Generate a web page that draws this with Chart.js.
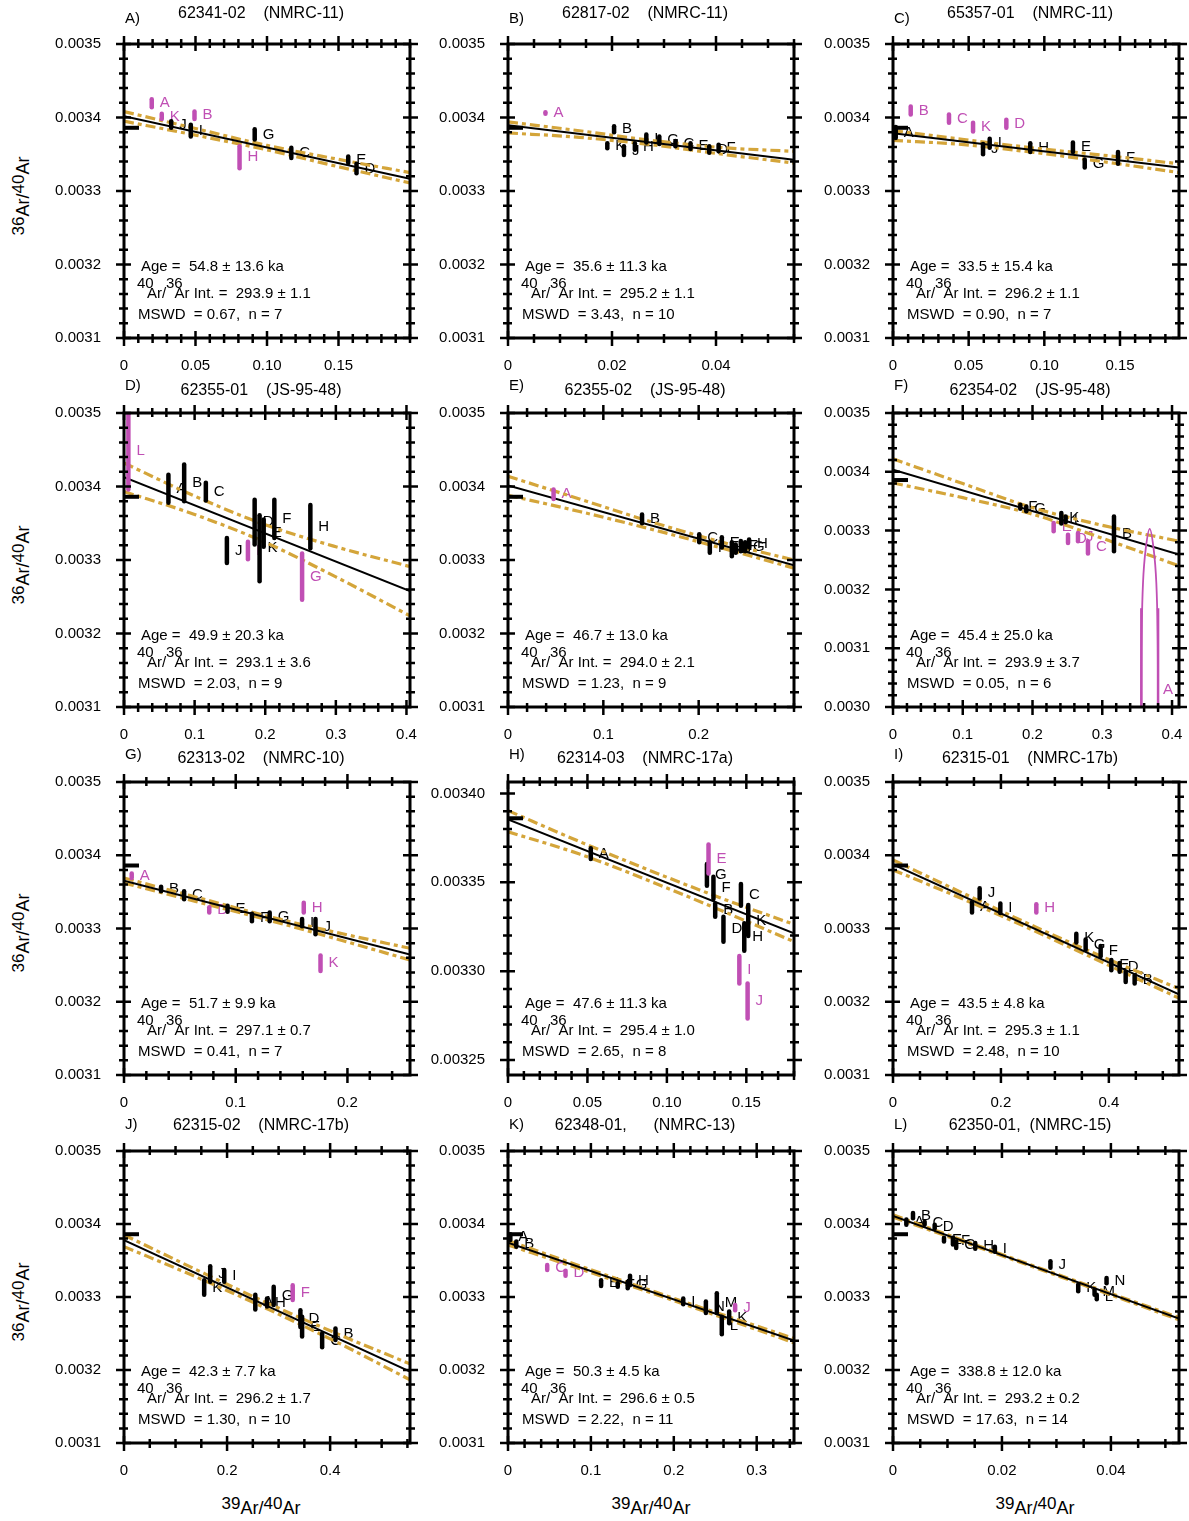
<!DOCTYPE html>
<html>
<head>
<meta charset="utf-8">
<script src="https://cdn.jsdelivr.net/npm/chart.js@4.4.0/dist/chart.umd.min.js"></script>
<style>
body { margin: 0; background: #fff; width: 1189px; height: 1521px; position: relative; overflow: hidden;
       font-family: "Liberation Sans", Arial, sans-serif; color: #000; }
canvas { position: absolute; }
.ytitle { position: absolute; white-space: nowrap; font-size: 18px; transform: translate(-50%, -50%) rotate(-90deg); }
.xtitle { position: absolute; white-space: nowrap; font-size: 18px; transform: translate(-50%, -50%); }
.num { position: relative; top: -5px; font-size: 17px; }
</style>
</head>
<body>
<script>
const ATM_RATIO = 0.003386;

const Y_TICKS = [0.0031, 0.0032, 0.0033, 0.0034, 0.0035];
const Y_TICK_TEXT = ['0.0031', '0.0032', '0.0033', '0.0034', '0.0035'];
const Y_TICKS_F = [0.0030, 0.0031, 0.0032, 0.0033, 0.0034, 0.0035];
const Y_TICK_TEXT_F = ['0.0030', '0.0031', '0.0032', '0.0033', '0.0034', '0.0035'];
const Y_TICKS_H = [0.00325, 0.00330, 0.00335, 0.00340];
const Y_TICK_TEXT_H = ['0.00325', '0.00330', '0.00335', '0.00340'];

const PANEL_LETTERS = ['A', 'B', 'C', 'D', 'E', 'F', 'G', 'H', 'I', 'J', 'K', 'L'];
const SAMPLE_TITLES = [
    '62341-02    (NMRC-11)', '62817-02    (NMRC-11)', '65357-01    (NMRC-11)',
    '62355-01    (JS-95-48)', '62355-02    (JS-95-48)', '62354-02    (JS-95-48)',
    '62313-02    (NMRC-10)', '62314-03    (NMRC-17a)', '62315-01    (NMRC-17b)',
    '62315-02    (NMRC-17b)', '62348-01,      (NMRC-13)', '62350-01,  (NMRC-15)'
];
const AGE_KA = ['54.8 ± 13.6', '35.6 ± 11.3', '33.5 ± 15.4', '49.9 ± 20.3', '46.7 ± 13.0', '45.4 ± 25.0',
    '51.7 ± 9.9', '47.6 ± 11.3', '43.5 ± 4.8', '42.3 ± 7.7', '50.3 ± 4.5', '338.8 ± 12.0'];
const INTERCEPT = ['293.9 ± 1.1', '295.2 ± 1.1', '296.2 ± 1.1', '293.1 ± 3.6', '294.0 ± 2.1', '293.9 ± 3.7',
    '297.1 ± 0.7', '295.4 ± 1.0', '295.3 ± 1.1', '296.2 ± 1.7', '296.6 ± 0.5', '293.2 ± 0.2'];
const MSWD = ['0.67', '3.43', '0.90', '2.03', '1.23', '0.05', '0.41', '2.65', '2.48', '1.30', '2.22', '17.63'];
const N_STEPS = ['7', '10', '7', '9', '9', '6', '7', '8', '10', '10', '11', '14'];

// A) 62341-02
const A_steps = ['A', 'K', 'B', 'J', 'I', 'G', 'C', 'H', 'E', 'D'];
const A_x = [0.0194, 0.0264, 0.0493, 0.0330, 0.0467, 0.0914, 0.1170, 0.0808, 0.1568, 0.1626];
const A_lo = [0.003414, 0.003398, 0.003398, 0.003386, 0.003374, 0.003370, 0.003345, 0.003331, 0.003338, 0.003324];
const A_hi = [0.003425, 0.003405, 0.003408, 0.003395, 0.003390, 0.003384, 0.003359, 0.003361, 0.003347, 0.003337];
const A_out = ['A', 'K', 'B', 'H'];
const A_fit = [0.0034016, 0.0033168];
const A_envX = [0, 0.05, 0.1, 0.15, 0.2];
const A_envUp = [0.003408, 0.003385, 0.003362, 0.003343, 0.003325];
const A_envLo = [0.003395, 0.003376, 0.003356, 0.003333, 0.003311];
const A_xTicks = [0, 0.05, 0.10, 0.15];
const A_xText = ['0', '0.05', '0.10', '0.15'];

// B) 62817-02
const B_steps = ['A', 'B', 'K', 'J', 'H', 'I', 'G', 'C', 'E', 'D', 'F'];
const B_x = [0.0072, 0.0204, 0.0191, 0.0223, 0.0244, 0.0266, 0.0291, 0.0322, 0.0351, 0.0387, 0.0405];
const B_lo = [0.003405, 0.003380, 0.003358, 0.003349, 0.003356, 0.003366, 0.003364, 0.003361, 0.003357, 0.003352, 0.003354];
const B_hi = [0.003407, 0.003388, 0.003365, 0.003361, 0.003365, 0.003377, 0.003374, 0.003368, 0.003365, 0.003361, 0.003363];
const B_out = ['A'];
const B_fit = [0.0033893, 0.0033426];
const B_envX = [0, 0.01375, 0.0275, 0.04125, 0.055];
const B_envUp = [0.003394, 0.003382, 0.003369, 0.003359, 0.003354];
const B_envLo = [0.003379, 0.003373, 0.003363, 0.003350, 0.003338];
const B_xTicks = [0, 0.02, 0.04];
const B_xText = ['0', '0.02', '0.04'];

// C) 65357-01
const C_steps = ['A', 'B', 'C', 'K', 'D', 'J', 'I', 'H', 'E', 'G', 'F'];
const C_x = [0.0018, 0.0117, 0.0370, 0.0529, 0.0749, 0.0595, 0.0639, 0.0907, 0.1189, 0.1267, 0.1487];
const C_lo = [0.003372, 0.003404, 0.003393, 0.003381, 0.003386, 0.003350, 0.003359, 0.003353, 0.003353, 0.003332, 0.003337];
const C_hi = [0.003387, 0.003415, 0.003404, 0.003393, 0.003397, 0.003364, 0.003371, 0.003365, 0.003366, 0.003343, 0.003353];
const C_out = ['B', 'C', 'K', 'D'];
const C_fit = [0.0033785, 0.0033321];
const C_envX = [0, 0.047, 0.095, 0.142, 0.189];
const C_envUp = [0.003382, 0.003370, 0.003358, 0.003348, 0.003337];
const C_envLo = [0.003369, 0.003363, 0.003352, 0.003339, 0.003325];
const C_xTicks = [0, 0.05, 0.10, 0.15];
const C_xText = ['0', '0.05', '0.10', '0.15'];

// D) 62355-01
const D_steps = ['L', 'A', 'B', 'C', 'J', 'I', 'D', 'K', 'E', 'F', 'G', 'H'];
const D_x = [0.0062, 0.0629, 0.0852, 0.1159, 0.1457, 0.1755, 0.1850, 0.1920, 0.1978, 0.2129, 0.2522, 0.2639];
const D_lo = [0.003396, 0.003378, 0.003380, 0.003381, 0.003296, 0.003301, 0.003321, 0.003271, 0.003318, 0.003330, 0.003246, 0.003316];
const D_hi = [0.003500, 0.003416, 0.003430, 0.003405, 0.003330, 0.003325, 0.003382, 0.003361, 0.003355, 0.003382, 0.003309, 0.003375];
const D_out = ['L', 'I', 'G'];
const D_fit = [0.0034127, 0.0032577];
const D_envX = [0, 0.1, 0.2, 0.3, 0.405];
const D_envUp = [0.003432, 0.003387, 0.003348, 0.003318, 0.003291];
const D_envLo = [0.003393, 0.003362, 0.003324, 0.003277, 0.003224];
const D_xTicks = [0, 0.1, 0.2, 0.3, 0.4];
const D_xText = ['0', '0.1', '0.2', '0.3', '0.4'];

// E) 62355-02
const E_steps = ['A', 'B', 'C', 'I', 'E', 'D', 'J', 'F', 'G', 'H'];
const E_x = [0.0478, 0.1406, 0.2006, 0.2117, 0.2243, 0.2348, 0.2389, 0.2442, 0.2487, 0.2529];
const E_lo = [0.003383, 0.003350, 0.003324, 0.003310, 0.003317, 0.003305, 0.003310, 0.003312, 0.003312, 0.003317];
const E_hi = [0.003396, 0.003362, 0.003335, 0.003324, 0.003331, 0.003324, 0.003321, 0.003326, 0.003324, 0.003328];
const E_out = ['A'];
const E_fit = [0.0034015, 0.0032929];
const E_envX = [0, 0.075, 0.15, 0.225, 0.3];
const E_envUp = [0.003414, 0.003383, 0.003352, 0.003324, 0.003300];
const E_envLo = [0.003388, 0.003366, 0.003342, 0.003316, 0.003289];
const E_xTicks = [0, 0.1, 0.2];
const E_xText = ['0', '0.1', '0.2'];

// F) 62354-02
const F_steps = ['F', 'G', 'K', 'I', 'B', 'E', 'D', 'J', 'C'];
const F_x = [0.1825, 0.1911, 0.2413, 0.2475, 0.3168, 0.2303, 0.2509, 0.2652, 0.2795];
const F_lo = [0.003337, 0.003333, 0.003312, 0.003314, 0.003265, 0.003299, 0.003279, 0.003282, 0.003261];
const F_hi = [0.003344, 0.003341, 0.003330, 0.003324, 0.003324, 0.003313, 0.003293, 0.003296, 0.003282];
const F_out = ['E', 'D', 'J', 'C'];
const F_fit = [0.0034036, 0.0032591];
const F_envX = [0, 0.1, 0.2, 0.3, 0.41];
const F_envUp = [0.003422, 0.003380, 0.003339, 0.003309, 0.003282];
const F_envLo = [0.003381, 0.003356, 0.003328, 0.003287, 0.003240];
const F_xTicks = [0, 0.1, 0.2, 0.3, 0.4];
const F_xText = ['0', '0.1', '0.2', '0.3', '0.4'];
// step A of F: large error ellipse running off the bottom of the plot
const F_archX = [0.3560, 0.3565, 0.3584, 0.3622, 0.3680, 0.3737, 0.3775, 0.3794, 0.3799];
const F_archY = [0.003000, 0.003120, 0.003211, 0.003268, 0.003303, 0.003268, 0.003211, 0.003120, 0.003000];
const F_legX = [0.3560, 0.3800];
const F_legTop = 0.003168;
const F_archLabelY = 0.00303;

// G) 62313-02
const G_steps = ['A', 'B', 'C', 'D', 'E', 'F', 'G', 'H', 'I', 'J', 'K'];
const G_x = [0.0069, 0.0332, 0.0538, 0.0763, 0.0927, 0.1145, 0.1304, 0.1609, 0.1594, 0.1714, 0.1759];
const G_lo = [0.003369, 0.003351, 0.003340, 0.003322, 0.003323, 0.003310, 0.003310, 0.003322, 0.003303, 0.003292, 0.003242];
const G_hi = [0.003375, 0.003357, 0.003351, 0.003329, 0.003331, 0.003320, 0.003322, 0.003335, 0.003313, 0.003313, 0.003263];
const G_out = ['A', 'D', 'H', 'K'];
const G_fit = [0.0033652, 0.0032646];
const G_envX = [0, 0.064, 0.128, 0.192, 0.256];
const G_envUp = [0.003369, 0.003343, 0.003317, 0.003294, 0.003273];
const G_envLo = [0.003362, 0.003337, 0.003312, 0.003285, 0.003257];
const G_xTicks = [0, 0.1, 0.2];
const G_xText = ['0', '0.1', '0.2'];

// H) 62314-03
const H_steps = ['A', 'E', 'G', 'F', 'B', 'D', 'C', 'H', 'K', 'I', 'J'];
const H_x = [0.0521, 0.1262, 0.1252, 0.1293, 0.1304, 0.1356, 0.1466, 0.1487, 0.1512, 0.1456, 0.1508];
const H_lo = [0.0033631, 0.0033550, 0.0033481, 0.0033406, 0.0033306, 0.0033166, 0.0033368, 0.0033115, 0.0033198, 0.0032931, 0.0032734];
const H_hi = [0.0033691, 0.0033713, 0.0033603, 0.0033531, 0.0033381, 0.0033306, 0.0033490, 0.0033269, 0.0033372, 0.0033085, 0.0032931];
const H_out = ['E', 'I', 'J'];
const H_fit = [0.0033854, 0.0033213];
const H_envX = [0, 0.045, 0.09, 0.135, 0.18];
const H_envUp = [0.0033903, 0.0033729, 0.0033564, 0.0033408, 0.0033263];
const H_envLo = [0.0033784, 0.0033659, 0.0033504, 0.0033338, 0.0033166];
const H_xTicks = [0, 0.05, 0.10, 0.15];
const H_xText = ['0', '0.05', '0.10', '0.15'];

// I) 62315-01
const I_steps = ['J', 'A', 'I', 'H', 'K', 'G', 'F', 'E', 'D', 'C', 'B'];
const I_x = [0.1606, 0.1464, 0.1989, 0.2656, 0.3397, 0.3570, 0.3848, 0.4046, 0.4200, 0.4312, 0.4478];
const I_lo = [0.003341, 0.003322, 0.003321, 0.003322, 0.003281, 0.003271, 0.003262, 0.003243, 0.003241, 0.003227, 0.003225];
const I_hi = [0.003355, 0.003336, 0.003334, 0.003333, 0.003293, 0.003285, 0.003276, 0.003257, 0.003253, 0.003241, 0.003236];
const I_out = ['H'];
const I_fit = [0.0033876, 0.0032101];
const I_envX = [0, 0.13, 0.265, 0.4, 0.53];
const I_envUp = [0.0033935, 0.0033481, 0.0033018, 0.0032576, 0.0032179];
const I_envLo = [0.0033800, 0.0033401, 0.0032958, 0.0032496, 0.0032050];
const I_xTicks = [0, 0.2, 0.4];
const I_xText = ['0', '0.2', '0.4'];

// J) 62315-02
const J_steps = ['K', 'J', 'I', 'A', 'H', 'G', 'F', 'D', 'E', 'C', 'B'];
const J_x = [0.1556, 0.1673, 0.1945, 0.2548, 0.2775, 0.2905, 0.3274, 0.3423, 0.3456, 0.3845, 0.4104];
const J_lo = [0.003303, 0.003321, 0.003321, 0.003283, 0.003287, 0.003289, 0.003296, 0.003259, 0.003246, 0.003231, 0.003241];
const J_hi = [0.003323, 0.003342, 0.003337, 0.003303, 0.003298, 0.003314, 0.003316, 0.003282, 0.003273, 0.003250, 0.003257];
const J_out = ['F'];
const J_fit = [0.0033779, 0.0031979];
const J_envX = [0, 0.14, 0.28, 0.42, 0.555];
const J_envUp = [0.0033850, 0.0033375, 0.0032911, 0.0032477, 0.0032084];
const J_envLo = [0.0033690, 0.0033275, 0.0032831, 0.0032357, 0.0031866];
const J_xTicks = [0, 0.2, 0.4];
const J_xText = ['0', '0.2', '0.4'];

// K) 62348-01
const K_steps = ['A', 'B', 'C', 'D', 'E', 'F', 'G', 'H', 'I', 'N', 'M', 'L', 'K', 'J'];
const K_x = [0.0028, 0.0100, 0.0473, 0.0694, 0.1123, 0.1324, 0.1444, 0.1472, 0.2114, 0.2387, 0.2519, 0.2579, 0.2668, 0.2740];
const K_lo = [0.003378, 0.003369, 0.003337, 0.003329, 0.003315, 0.003314, 0.003312, 0.003316, 0.003290, 0.003278, 0.003278, 0.003249, 0.003264, 0.003282];
const K_hi = [0.003386, 0.003376, 0.003344, 0.003336, 0.003323, 0.003319, 0.003321, 0.003329, 0.003298, 0.003294, 0.003305, 0.003273, 0.003280, 0.003289];
const K_out = ['C', 'D', 'J'];
const K_fit = [0.0033743, 0.0032403];
const K_envX = [0, 0.086, 0.1725, 0.259, 0.345];
const K_envUp = [0.0033773, 0.0033429, 0.0033088, 0.0032757, 0.0032433];
const K_envLo = [0.0033713, 0.0033389, 0.0033058, 0.0032717, 0.0032373];
const K_xTicks = [0, 0.1, 0.2, 0.3];
const K_xText = ['0', '0.1', '0.2', '0.3'];

// L) 62350-01
const L_steps = ['A', 'B', 'C', 'D', 'E', 'F', 'G', 'H', 'I', 'J', 'K', 'M', 'L', 'N'];
const L_x = [0.00245, 0.00367, 0.0058, 0.00765, 0.00936, 0.0110, 0.0116, 0.0151, 0.0187, 0.0289, 0.0340, 0.0370, 0.0374, 0.0392];
const L_lo = [0.003399, 0.003408, 0.003399, 0.003394, 0.003376, 0.003372, 0.003367, 0.003366, 0.003362, 0.003340, 0.003308, 0.003303, 0.003297, 0.003319];
const L_hi = [0.003406, 0.003415, 0.003403, 0.003399, 0.003381, 0.003381, 0.003376, 0.003374, 0.003369, 0.003349, 0.003317, 0.003310, 0.003303, 0.003326];
const L_out = [];
const L_fit = [0.0034110, 0.0032703];
const L_envX = [0, 0.013, 0.026, 0.039, 0.0525];
const L_envUp = [0.0034125, 0.0033772, 0.0033421, 0.0033075, 0.0032718];
const L_envLo = [0.0034095, 0.0033752, 0.0033405, 0.0033055, 0.0032688];
const L_xTicks = [0, 0.02, 0.04];
const L_xText = ['0', '0.02', '0.04'];

const BLACK = '#000000';
const MAGENTA = '#c04fb4';
const GOLD = '#d4a53a';
const FONT = '"Liberation Sans", Arial, sans-serif';

const COL_LEFT = [124, 508, 893];
const ROW_TOP = [44, 413, 782, 1151];
const ROW_H = [294, 294, 293, 292];
const PLOT_W = 286;
const LETTER_DY = [-25, -27, -27, -26];
const TITLE_DY = [-30, -22, -23, -25];

const stdY = { yMin: 0.0031, yMax: 0.0035, yMinor: 0.00002, yTicks: Y_TICKS, yText: Y_TICK_TEXT };
const panels = [
    { steps: A_steps, x: A_x, lo: A_lo, hi: A_hi, out: A_out, fit: A_fit, envX: A_envX, envUp: A_envUp, envLo: A_envLo,
      xMax: 0.2, xMinor: 0.01, xTicks: A_xTicks, xText: A_xText, ...stdY },
    { steps: B_steps, x: B_x, lo: B_lo, hi: B_hi, out: B_out, fit: B_fit, envX: B_envX, envUp: B_envUp, envLo: B_envLo,
      xMax: 0.055, xMinor: 0.005, xTicks: B_xTicks, xText: B_xText, ...stdY },
    { steps: C_steps, x: C_x, lo: C_lo, hi: C_hi, out: C_out, fit: C_fit, envX: C_envX, envUp: C_envUp, envLo: C_envLo,
      xMax: 0.189, xMinor: 0.01, xTicks: C_xTicks, xText: C_xText, ...stdY },
    { steps: D_steps, x: D_x, lo: D_lo, hi: D_hi, out: D_out, fit: D_fit, envX: D_envX, envUp: D_envUp, envLo: D_envLo,
      xMax: 0.405, xMinor: 0.02, xTicks: D_xTicks, xText: D_xText, ...stdY },
    { steps: E_steps, x: E_x, lo: E_lo, hi: E_hi, out: E_out, fit: E_fit, envX: E_envX, envUp: E_envUp, envLo: E_envLo,
      xMax: 0.3, xMinor: 0.02, xTicks: E_xTicks, xText: E_xText, ...stdY },
    { steps: F_steps, x: F_x, lo: F_lo, hi: F_hi, out: F_out, fit: F_fit, envX: F_envX, envUp: F_envUp, envLo: F_envLo,
      xMax: 0.41, xMinor: 0.02, xTicks: F_xTicks, xText: F_xText,
      yMin: 0.0030, yMax: 0.0035, yMinor: 0.00002, yTicks: Y_TICKS_F, yText: Y_TICK_TEXT_F, arch: true },
    { steps: G_steps, x: G_x, lo: G_lo, hi: G_hi, out: G_out, fit: G_fit, envX: G_envX, envUp: G_envUp, envLo: G_envLo,
      xMax: 0.256, xMinor: 0.02, xTicks: G_xTicks, xText: G_xText, ...stdY },
    { steps: H_steps, x: H_x, lo: H_lo, hi: H_hi, out: H_out, fit: H_fit, envX: H_envX, envUp: H_envUp, envLo: H_envLo,
      xMax: 0.18, xMinor: 0.01, xTicks: H_xTicks, xText: H_xText,
      yMin: 0.0032416, yMax: 0.0034064, yMinor: 0.00001, yTicks: Y_TICKS_H, yText: Y_TICK_TEXT_H },
    { steps: I_steps, x: I_x, lo: I_lo, hi: I_hi, out: I_out, fit: I_fit, envX: I_envX, envUp: I_envUp, envLo: I_envLo,
      xMax: 0.53, xMinor: 0.05, xTicks: I_xTicks, xText: I_xText, ...stdY },
    { steps: J_steps, x: J_x, lo: J_lo, hi: J_hi, out: J_out, fit: J_fit, envX: J_envX, envUp: J_envUp, envLo: J_envLo,
      xMax: 0.555, xMinor: 0.05, xTicks: J_xTicks, xText: J_xText, ...stdY },
    { steps: K_steps, x: K_x, lo: K_lo, hi: K_hi, out: K_out, fit: K_fit, envX: K_envX, envUp: K_envUp, envLo: K_envLo,
      xMax: 0.345, xMinor: 0.02, xTicks: K_xTicks, xText: K_xText, ...stdY },
    { steps: L_steps, x: L_x, lo: L_lo, hi: L_hi, out: L_out, fit: L_fit, envX: L_envX, envUp: L_envUp, envLo: L_envLo,
      xMax: 0.0525, xMinor: 0.005, xTicks: L_xTicks, xText: L_xText, ...stdY }
];

const panelByCanvas = {};

function tickText(value, ticks, texts, minor) {
    const i = ticks.findIndex(t => Math.abs(t - value) < minor / 100);
    return i >= 0 ? texts[i] : '';
}
// tick positions every minor step inside [min, max]
function gridTicks(min, max, step) {
    const out = [];
    for (let k = Math.ceil(min / step - 1e-6); k <= Math.floor(max / step + 1e-6); k++) {
        out.push({ value: +(k * step).toFixed(10) });
    }
    return out;
}

const decorPlugin = {
    id: 'decor',
    beforeDatasetsDraw(chart) {
        const P = panelByCanvas[chart.canvas.id];
        const { ctx, scales: { x, y } } = chart;
        ctx.save();
        ctx.font = '15px ' + FONT;
        ctx.textBaseline = 'middle';
        ctx.textAlign = 'left';
        P.steps.forEach((s, i) => {
            ctx.fillStyle = P.out.includes(s) ? MAGENTA : BLACK;
            const py = y.getPixelForValue((P.lo[i] + P.hi[i]) / 2);
            ctx.fillText(s, x.getPixelForValue(P.x[i]) + 8, py);
        });
        if (P.arch) {
            ctx.fillStyle = MAGENTA;
            ctx.fillText('A', x.getPixelForValue(F_legX[1]) + 5, y.getPixelForValue(F_archLabelY));
        }
        ctx.restore();
    },
    afterDraw(chart) {
        const P = panelByCanvas[chart.canvas.id];
        const { ctx, chartArea: a, scales: { x, y } } = chart;
        ctx.save();
        // atmospheric ratio marker
        ctx.strokeStyle = BLACK;
        ctx.lineWidth = 4;
        const ya = y.getPixelForValue(ATM_RATIO);
        ctx.beginPath();
        ctx.moveTo(a.left, ya);
        ctx.lineTo(a.left + 15, ya);
        ctx.stroke();
        // frame
        ctx.lineWidth = 3;
        ctx.strokeRect(a.left, a.top, a.right - a.left, a.bottom - a.top);
        // ticks on all four sides, crossing the frame
        ctx.lineWidth = 2.5;
        ctx.beginPath();
        x.ticks.forEach(t => {
            const major = tickText(t.value, P.xTicks, P.xText, P.xMinor) !== '';
            const out = major ? 8 : 5, inn = major ? 7 : 4;
            const px = x.getPixelForValue(t.value);
            ctx.moveTo(px, a.bottom + out); ctx.lineTo(px, a.bottom - inn);
            ctx.moveTo(px, a.top - out); ctx.lineTo(px, a.top + inn);
        });
        y.ticks.forEach(t => {
            const major = tickText(t.value, P.yTicks, P.yText, P.yMinor) !== '';
            const out = major ? 8 : 5, inn = major ? 7 : 4;
            const py = y.getPixelForValue(t.value);
            ctx.moveTo(a.left - out, py); ctx.lineTo(a.left + inn, py);
            ctx.moveTo(a.right + out, py); ctx.lineTo(a.right - inn, py);
        });
        ctx.stroke();
        // statistics block
        ctx.fillStyle = BLACK;
        ctx.font = '15px ' + FONT;
        ctx.textAlign = 'left';
        ctx.textBaseline = 'alphabetic';
        ctx.fillText('Age =  ' + AGE_KA[P.idx] + ' ka', a.left + 17, a.bottom - 67);
        ctx.fillText('40', a.left + 13, a.bottom - 50);
        ctx.fillText('36', a.left + 42, a.bottom - 50);
        ctx.fillText('Ar/  Ar Int. =  ' + INTERCEPT[P.idx], a.left + 23, a.bottom - 40.5);
        ctx.fillText('MSWD  = ' + MSWD[P.idx] + ',  n = ' + N_STEPS[P.idx], a.left + 14, a.bottom - 19);
        // panel letter and title
        ctx.textBaseline = 'middle';
        ctx.fillText(PANEL_LETTERS[P.idx] + ')', a.left + 1, a.top + LETTER_DY[P.row]);
        ctx.font = '16px ' + FONT;
        ctx.textAlign = 'center';
        ctx.fillText(SAMPLE_TITLES[P.idx], (a.left + a.right) / 2 - 6, a.top + TITLE_DY[P.row]);
        ctx.restore();
    }
};

Chart.defaults.font.family = FONT;
Chart.defaults.font.size = 15;
Chart.defaults.color = BLACK;

panels.forEach((P, idx) => {
    const col = idx % 3, row = Math.floor(idx / 3);
    P.idx = idx; P.row = row;
    const plotH = ROW_H[row];
    const canvas = document.createElement('canvas');
    canvas.id = 'panel' + idx;
    canvas.width = PLOT_W + 80 + 14;
    canvas.height = plotH + 40 + 42;
    canvas.style.left = (COL_LEFT[col] - 80) + 'px';
    canvas.style.top = (ROW_TOP[row] - 40) + 'px';
    document.body.appendChild(canvas);
    panelByCanvas[canvas.id] = P;

    const datasets = [];
    P.steps.forEach((s, i) => {
        datasets.push({
            data: [{ x: P.x[i], y: P.lo[i] }, { x: P.x[i], y: P.hi[i] }],
            showLine: true, borderColor: P.out.includes(s) ? MAGENTA : BLACK, borderWidth: 4.5,
            borderCapStyle: 'round', pointRadius: 0, order: 1
        });
    });
    if (P.arch) {
        datasets.push({
            data: F_archX.map((v, i) => ({ x: v, y: F_archY[i] })),
            showLine: true, borderColor: MAGENTA, borderWidth: 1.8, tension: 0.4, pointRadius: 0, order: 1
        });
        F_legX.forEach(v => datasets.push({
            data: [{ x: v, y: P.yMin }, { x: v, y: F_legTop }],
            showLine: true, borderColor: MAGENTA, borderWidth: 2.5, pointRadius: 0, order: 1
        }));
    }
    datasets.push({
        data: [{ x: 0, y: P.fit[0] }, { x: P.xMax, y: P.fit[1] }],
        showLine: true, borderColor: BLACK, borderWidth: 2, pointRadius: 0, order: 2
    });
    [P.envUp, P.envLo].forEach(env => datasets.push({
        data: P.envX.map((v, i) => ({ x: v, y: env[i] })),
        showLine: true, borderColor: GOLD, borderWidth: 3.2, borderDash: [10, 4, 4, 4],
        cubicInterpolationMode: 'monotone', pointRadius: 0, order: 3
    }));

    new Chart(canvas, {
        type: 'scatter',
        data: { datasets },
        plugins: [decorPlugin],
        options: {
            responsive: false,
            animation: false,
            devicePixelRatio: 1,
            events: [],
            layout: { padding: { left: 0, top: 40, right: 14, bottom: 2 } },
            plugins: { legend: { display: false }, tooltip: { enabled: false } },
            scales: {
                x: {
                    type: 'linear', min: 0, max: P.xMax,
                    grid: { display: false, drawTicks: false }, border: { display: false },
                    ticks: {
                        autoSkip: false, maxRotation: 0, padding: 19,
                        callback: v => tickText(v, P.xTicks, P.xText, P.xMinor)
                    },
                    afterBuildTicks: s => { s.ticks = gridTicks(0, P.xMax, P.xMinor); },
                    afterFit: s => { s.height = 40; s.paddingLeft = 0; s.paddingRight = 0; }
                },
                y: {
                    type: 'linear', min: P.yMin, max: P.yMax,
                    grid: { display: false, drawTicks: false }, border: { display: false },
                    ticks: {
                        autoSkip: false, padding: 23,
                        callback: v => tickText(v, P.yTicks, P.yText, P.yMinor)
                    },
                    afterBuildTicks: s => { s.ticks = gridTicks(P.yMin, P.yMax, P.yMinor); },
                    afterFit: s => { s.width = 80; s.paddingTop = 0; s.paddingBottom = 0; }
                }
            }
        }
    });
});

// axis titles
const yTitleY = [196, 565, 933, 1302];
yTitleY.forEach(cy => {
    const d = document.createElement('div');
    d.className = 'ytitle';
    d.style.left = '23px';
    d.style.top = cy + 'px';
    d.innerHTML = '<span class="num">36</span>Ar/<span class="num">40</span>Ar';
    document.body.appendChild(d);
});
const xTitleX = [261, 651, 1035];
xTitleX.forEach(cx => {
    const d = document.createElement('div');
    d.className = 'xtitle';
    d.style.left = cx + 'px';
    d.style.top = '1508px';
    d.innerHTML = '<span class="num">39</span>Ar/<span class="num">40</span>Ar';
    document.body.appendChild(d);
});
</script>
</body>
</html>
